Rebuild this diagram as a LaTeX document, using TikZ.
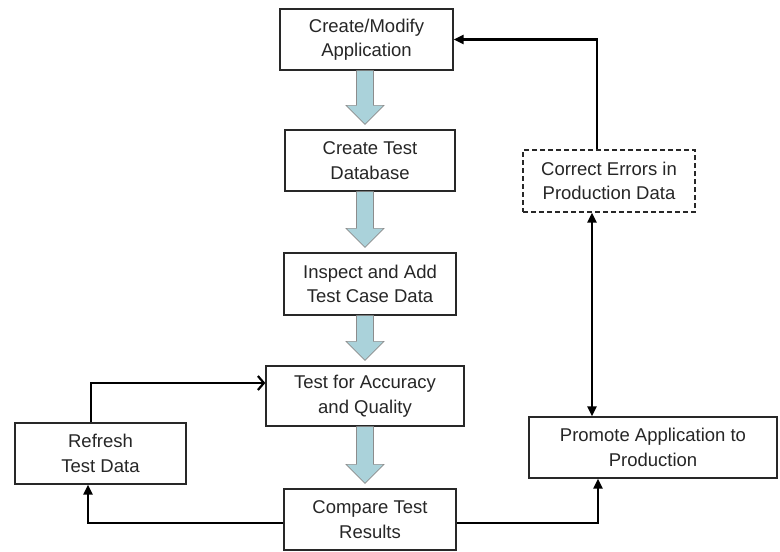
\documentclass[tikz,border=0pt]{standalone}
\usepackage{fontspec}
\setmainfont{Liberation Sans}
\usetikzlibrary{arrows.meta,calc}
\definecolor{blockblue}{RGB}{170,210,218}
\definecolor{boxline}{RGB}{40,40,40}
\tikzset{
  stepbox/.style={draw=boxline, line width=1.3pt, fill=white, align=center,
    inner sep=0pt, font=\fontsize{18.5}{24.5}\selectfont, text=black!85},
  flow/.style={line width=2.2pt, -{Triangle[length=10pt,width=9pt]}},
  openflow/.style={line width=2.2pt, -{Straight Barb[length=6pt,width=14pt,line width=2.2pt]}},
  blockarr/.style={fill=blockblue, draw=black!45, line width=0.6pt}
}
% thick blue arrow between two boxes of the middle column
\newcommand{\blockarrow}[2]{%
  \path[blockarr] let \p1=(#1.south), \p2=(#2.north), \p3=(accuracy.center) in
    (\x3-8.5pt,\y1) -- (\x3+8.5pt,\y1) -- (\x3+8.5pt,\y2+24pt)
    -- (\x3+19pt,\y2+24pt) -- (\x3,\y2+5pt) -- (\x3-19pt,\y2+24pt)
    -- (\x3-8.5pt,\y2+24pt) -- cycle;}
\begin{document}
\begin{tikzpicture}[x=1pt,y=-1pt]
  \useasboundingbox (0,0) rectangle (780,552);
  % middle column
  \node[stepbox, minimum width=173pt, minimum height=61pt] (create) at (366.5,39.5) {Create/Modify\\Application};
  \node[stepbox, minimum width=170pt, minimum height=61pt] (testdb) at (370,160.5) {Create Test\\Database};
  \node[stepbox, minimum width=172pt, minimum height=62pt] (inspect) at (370,284) {Inspect and Add\\Test Case Data};
  \node[stepbox, minimum width=198pt, minimum height=60pt] (accuracy) at (365,396) {Test for Accuracy\\and Quality};
  \node[stepbox, minimum width=172pt, minimum height=61pt] (compare) at (370,519.5) {Compare Test\\Results};
  % side boxes
  \node[stepbox, minimum width=171pt, minimum height=61pt] (refresh) at (100.5,453.5) {Refresh\\Test Data};
  \node[stepbox, dash pattern=on 5pt off 3pt, minimum width=172pt, minimum height=62pt] (correct) at (609,181) {Correct Errors in\\Production Data};
  \node[stepbox, minimum width=248pt, minimum height=61pt] (promote) at (653,447.5) {Promote Application to\\Production};

  \blockarrow{create}{testdb}
  \blockarrow{testdb}{inspect}
  \blockarrow{inspect}{accuracy}
  \blockarrow{accuracy}{compare}

  \draw[openflow] ([xshift=-9.5pt]refresh.north) |- ([yshift=13pt]accuracy.west);
  \draw[flow] ([yshift=-3.5pt]compare.west) -| ([xshift=-12.5pt]refresh.south);
  \draw[flow] ([yshift=-3.5pt]compare.east) -| ([xshift=-55pt]promote.south);
  \draw[flow] ([xshift=-12pt]correct.north) |- (create.east);
  \draw[flow, {Triangle[length=10pt,width=9pt]}-{Triangle[length=10pt,width=9pt]}]
    ([xshift=-17pt]correct.south) -- ([xshift=-17pt]correct.south |- promote.north);
\end{tikzpicture}
\end{document}
